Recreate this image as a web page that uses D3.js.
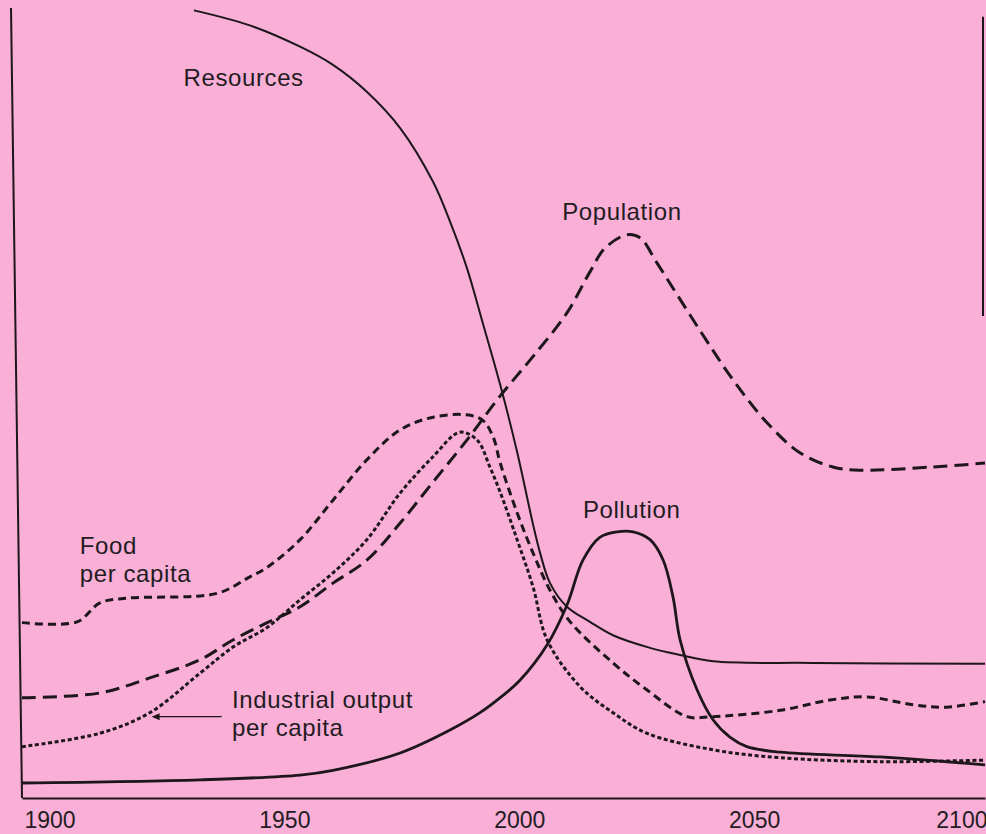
<!DOCTYPE html>
<html>
<head>
<meta charset="utf-8">
<script src="https://cdn.jsdelivr.net/npm/d3@7"></script>
<style>
  html, body { margin: 0; padding: 0; background: #f9afd6; }
  svg { display: block; }
  .lbl { font-family: "Liberation Sans", Arial, sans-serif; font-size: 24px; fill: #231c22; letter-spacing: 0.6px; }
  .x-axis text { font-family: "Liberation Sans", Arial, sans-serif; font-size: 23px; fill: #231c22; }
</style>
</head>
<body>
<div id="chart"></div>
<script>
var svgWidth = 986;
var svgHeight = 834;

// World3 style run (0-100 relative scale)
var resourceYears  = [1931.6, 1943.5, 1954.2, 1961.2, 1968.4, 1975.5, 1982.5, 1986.1, 1989.7, 1993.1, 1996.8, 2000.4, 2003.8, 2005.3, 2007.4, 2011, 2015.9, 2020.8, 2028.7, 2035.1, 2042.1, 2063.4, 2100];
var resourceValues = [99.7, 97.8, 95.1, 92.8, 89.4, 84.8, 78.0, 73.0, 67.1, 60.1, 52.3, 43.8, 34.6, 31.0, 27.2, 24.2, 22.3, 20.6, 19.0, 18.1, 17.3, 17.1, 17.0];

var populationYears  = [1895, 1911.6, 1922.2, 1932.9, 1939.9, 1947.2, 1954.2, 1961.2, 1968.4, 1975.5, 1982.5, 1989.7, 1996.8, 2003.8, 2011, 2015.9, 2019.1, 2023.8, 2026.6, 2030.2, 2039.3, 2046.4, 2053.6, 2060.6, 2067.6, 2073.4, 2088.9, 2100];
var populationValues = [12.7, 13.3, 15.2, 17.5, 20.0, 22.2, 24.2, 27.2, 30.1, 34.8, 40.0, 45.3, 50.9, 55.9, 61.4, 66.6, 69.6, 71.3, 70.9, 67.7, 59.2, 52.9, 47.5, 43.7, 41.9, 41.5, 41.9, 42.4];

var foodYears  = [1895, 1906.7, 1911.6, 1917.4, 1936.5, 1943.5, 1947.2, 1954.2, 1961.2, 1968.4, 1975.5, 1982.5, 1989.7, 1993.1, 1995.3, 1996.8, 2000.4, 2003.8, 2007.4, 2011.7, 2020.8, 2028, 2036.6, 2042.1, 2056.4, 2067, 2074.9, 2084.7, 2091.9, 2100];
var foodValues = [22.2, 22.3, 24.7, 25.3, 25.9, 28.0, 29.2, 32.7, 37.7, 42.8, 46.6, 48.2, 48.5, 47.8, 45.7, 42.4, 36.1, 31.0, 26.3, 22.3, 17.1, 13.7, 10.3, 10.3, 11.1, 12.4, 12.8, 11.8, 11.5, 12.2];

var industryYears  = [1895, 1911.6, 1922.2, 1932.9, 1939.9, 1947.2, 1954.2, 1961.2, 1968.4, 1975.5, 1982.5, 1988.2, 1991.9, 1994.6, 1996.8, 2000.4, 2003.8, 2006.8, 2013.8, 2020.8, 2028, 2042.1, 2056.4, 2077.6, 2100];
var industryValues = [6.5, 8.2, 10.8, 15.8, 19.1, 21.6, 25.1, 28.5, 32.7, 38.6, 43.2, 46.3, 45.3, 41.9, 38.7, 32.7, 26.7, 20.0, 14.1, 10.8, 8.2, 6.1, 5.1, 4.6, 4.8];

var pollutionYears  = [1895, 1932.9, 1954.2, 1961.2, 1975.5, 1986.1, 1992.5, 1996.8, 2001, 2006.8, 2011, 2014.4, 2018, 2021.7, 2025.1, 2028.7, 2031.5, 2033.6, 2035.1, 2038.7, 2042.1, 2045.7, 2049.3, 2056.4, 2077.6, 2100];
var pollutionValues = [1.9, 2.3, 2.9, 3.5, 5.7, 8.6, 10.8, 12.7, 14.9, 19.4, 24.4, 30.1, 33.0, 33.7, 33.7, 32.7, 30.1, 25.4, 20.0, 13.7, 9.9, 7.7, 6.5, 5.8, 5.2, 4.2];

var tickYears = [1900, 1950, 2000, 2050, 2100];

var svg = d3.select("#chart")
  .append("svg")
  .attr("width", svgWidth)
  .attr("height", svgHeight);

var x = d3.scaleLinear().domain([1895, 2100]).range([22, 985]);
var y = d3.scaleLinear().domain([0, 100]).range([798, 8]);

function pairs(years, values) {
  return years.map(function(yr, i) { return { year: yr, value: values[i] }; });
}

var line = d3.line()
  .x(d => x(d.year))
  .y(d => y(d.value))
  .curve(d3.curveCatmullRom.alpha(0.5));

var ink = "#1d171c";

// frame: left edge (scan is slightly skewed), top part of the right edge
svg.append("line")
  .attr("x1", x(1895) - 11).attr("y1", y(100))
  .attr("x2", x(1895)).attr("y2", y(0))
  .attr("stroke", ink).attr("stroke-width", 2);
svg.append("line")
  .attr("x1", x(2100) - 2).attr("y1", y(98.9))
  .attr("x2", x(2100) - 2).attr("y2", y(61))
  .attr("stroke", ink).attr("stroke-width", 2);

// x axis
var bottomAxis = d3.axisBottom(x).tickValues(tickYears).tickSize(0).tickPadding(14).tickFormat(d3.format("d"));
var xg = svg.append("g")
  .classed("x-axis", true)
  .attr("transform", `translate(0, ${y(0)})`)
  .call(bottomAxis);
xg.select(".domain").attr("stroke", ink).attr("stroke-width", 2.2);
xg.selectAll(".tick text")
  .attr("fill", "#231c22")
  .attr("text-anchor", d => d === 2100 ? "end" : "middle")
  .attr("dx", d => d === 2100 ? 2 : 4);

var series = [
  { name: "resources",  data: pairs(resourceYears, resourceValues),     width: 2,   dash: null },
  { name: "population", data: pairs(populationYears, populationValues), width: 3,   dash: "14 7" },
  { name: "food",       data: pairs(foodYears, foodValues),             width: 3,   dash: "8 5" },
  { name: "industry",   data: pairs(industryYears, industryValues),     width: 3,   dash: "4 2.6" },
  { name: "pollution",  data: pairs(pollutionYears, pollutionValues),   width: 2.8, dash: null }
];

svg.selectAll("path.series")
  .data(series)
  .enter()
  .append("path")
  .attr("class", d => "series " + d.name)
  .attr("d", d => line(d.data))
  .attr("fill", "none")
  .attr("stroke", ink)
  .attr("stroke-width", d => d.width)
  .attr("stroke-dasharray", d => d.dash);

// labels
var labels = [
  { text: ["Resources"], year: 1929.4, value: 90.1 },
  { text: ["Population"], year: 2010, value: 73.2 },
  { text: ["Pollution"], year: 2014.4, value: 35.4 },
  { text: ["Food", "per capita"], year: 1907.3, value: 30.9 },
  { text: ["Industrial output", "per capita"], year: 1939.7, value: 11.4 }
];

labels.forEach(function(l) {
  var t = svg.append("text")
    .attr("class", "lbl")
    .attr("x", x(l.year))
    .attr("y", y(l.value));
  l.text.forEach(function(s, i) {
    t.append("tspan")
      .attr("x", x(l.year))
      .attr("dy", i === 0 ? 0 : 28.5)
      .text(s);
  });
});

// arrow pointing at the industrial output curve
svg.append("line")
  .attr("x1", x(1937.5)).attr("y1", y(10.3))
  .attr("x2", x(1923)).attr("y2", y(10.3))
  .attr("stroke", ink).attr("stroke-width", 1.4);
svg.append("path")
  .attr("d", `M${x(1922.6)},${y(10.3)} l8,-3.5 l0,7 Z`)
  .attr("fill", ink);
</script>
</body>
</html>
